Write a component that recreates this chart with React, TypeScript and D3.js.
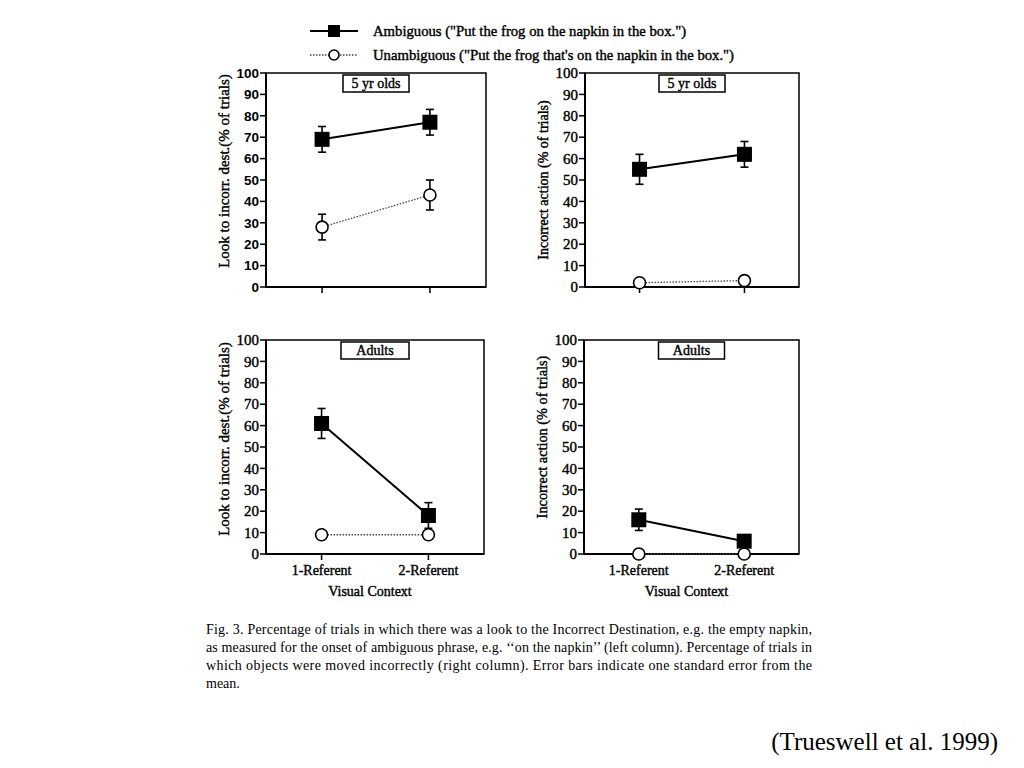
import React from 'react';
import * as d3 from 'd3';

// x categories and y ticks
const contexts = ['1-Referent', '2-Referent'];
const yTicks = [0, 10, 20, 30, 40, 50, 60, 70, 80, 90, 100];

// 5 yr olds, looks to incorrect destination
const kidsLookAmb = [69, 77];
const kidsLookAmbErr = [6, 6];
const kidsLookUnamb = [28, 43];
const kidsLookUnambErr = [6, 7];

// 5 yr olds, incorrect action
const kidsActAmb = [55, 62];
const kidsActAmbErr = [7, 6];
const kidsActUnamb = [2, 3];
const kidsActUnambErr = [0, 0];

// adults, looks
const adultLookAmb = [61, 18];
const adultLookAmbErr = [7, 6];
const adultLookUnamb = [9, 9];
const adultLookUnambErr = [0, 0];

// adults, action
const adultActAmb = [16, 6];
const adultActAmbErr = [5, 0];
const adultActUnamb = [0, 0];
const adultActUnambErr = [0, 0];

const captionLines = [
  'Fig. 3.  Percentage of trials in which there was a look to the Incorrect Destination, e.g. the empty napkin,',
  'as measured for the onset of ambiguous phrase, e.g. \u2018\u2018on the napkin\u2019\u2019 (left column). Percentage of trials in',
  'which objects were moved incorrectly (right column). Error bars indicate one standard error from the',
  'mean.',
];

const SERIF = '"Liberation Serif", "Times New Roman", serif';
const SANS = '"Liberation Sans", Arial, sans-serif';

// scanned figure text looks heavier than plain regular
const heavy = { stroke: '#000', strokeWidth: 0.4 };

interface PanelProps {
  x0: number; x1: number; y0: number; y1: number;
  title: string; titleW: number;
  yLabel: string; yLabelSize: number; yLabelShift: number;
  amb: number[]; ambErr: number[];
  unamb: number[]; unambErr: number[];
  showX: boolean;
  tickFont: string;
}

const Panel: React.FC<PanelProps> = (p) => {
  const x = d3.scalePoint<string>().domain(contexts).range([p.x0, p.x1]).padding(0.52);
  const y = d3.scaleLinear().domain([0, 100]).range([p.y1, p.y0]);
  const line = d3.line<number>().x((_, i) => x(contexts[i])!).y((d) => y(d));
  const cx = (p.x0 + p.x1) / 2;

  const errBars = (vals: number[], errs: number[]) =>
    vals.map((v, i) => {
      if (!errs[i]) return null;
      const px = x(contexts[i])!;
      return (
        <g key={i} stroke="#000" strokeWidth={1.6}>
          <line x1={px} x2={px} y1={y(v - errs[i])} y2={y(v + errs[i])} />
          <line x1={px - 4} x2={px + 4} y1={y(v + errs[i])} y2={y(v + errs[i])} />
          <line x1={px - 4} x2={px + 4} y1={y(v - errs[i])} y2={y(v - errs[i])} />
        </g>
      );
    });

  return (
    <g>
      {/* frame */}
      <rect x={p.x0} y={p.y0} width={p.x1 - p.x0} height={p.y1 - p.y0} fill="none" stroke="#000" strokeWidth={1.5} />
      <line x1={p.x0} x2={p.x0} y1={p.y0} y2={p.y1} stroke="#000" strokeWidth={2} />
      <line x1={p.x0} x2={p.x1} y1={p.y1} y2={p.y1} stroke="#000" strokeWidth={2} />
      {/* title box */}
      <rect x={cx - p.titleW / 2} y={p.y0 + 2} width={p.titleW} height={17} fill="#fff" stroke="#000" strokeWidth={1.5} />
      <text x={cx} y={p.y0 + 15} textAnchor="middle" fontFamily={SERIF} fontSize={14} {...heavy}>{p.title}</text>
      {/* y ticks */}
      {yTicks.map((t) => (
        <g key={t}>
          <line x1={p.x0 - 6} x2={p.x0} y1={y(t)} y2={y(t)} stroke="#000" strokeWidth={1.5} />
          {p.tickFont === SANS ? (
            <text x={p.x0 - 7} y={y(t)} dy="0.35em" textAnchor="end" fontFamily={SANS}
              fontSize={13.5} fontWeight="bold">{t}</text>
          ) : (
            <text x={p.x0 - 7} y={y(t)} dy="0.35em" textAnchor="end" fontFamily={SERIF}
              fontSize={15} {...heavy}>{t}</text>
          )}
        </g>
      ))}
      {/* x ticks */}
      {contexts.map((c) => (
        <g key={c}>
          <line x1={x(c)!} x2={x(c)!} y1={p.y1} y2={p.y1 + 6} stroke="#000" strokeWidth={1.5} />
          {p.showX && (
            <text x={x(c)!} y={p.y1 + 21} textAnchor="middle" fontFamily={SERIF} fontSize={14} {...heavy}>{c}</text>
          )}
        </g>
      ))}
      {p.showX && (
        <text x={cx - 5} y={p.y1 + 42} textAnchor="middle" fontFamily={SERIF} fontSize={14} {...heavy}>Visual Context</text>
      )}
      <text transform={`translate(${p.x0 - 37},${(p.y0 + p.y1) / 2 + p.yLabelShift}) rotate(-90)`} textAnchor="middle"
        fontFamily={SERIF} fontSize={p.yLabelSize} {...heavy}>{p.yLabel}</text>
      {/* series */}
      {errBars(p.unamb, p.unambErr)}
      {errBars(p.amb, p.ambErr)}
      <path d={line(p.unamb)!} fill="none" stroke="#444" strokeWidth={1.3} strokeDasharray="1.5 1.5" />
      <path d={line(p.amb)!} fill="none" stroke="#000" strokeWidth={2} />
      {p.unamb.map((v, i) => (
        <circle key={i} cx={x(contexts[i])!} cy={y(v)} r={6} fill="#fff" stroke="#000" strokeWidth={1.6} />
      ))}
      {p.amb.map((v, i) => (
        <rect key={i} x={x(contexts[i])! - 7.5} y={y(v) - 7.5} width={15} height={15} fill="#000" />
      ))}
    </g>
  );
};

export default function App() {
  return (
    <div style={{ position: 'absolute', left: 0, top: 0 }}>
      <svg width={1024} height={768} style={{ display: 'block', background: '#fff' }}>
        {/* legend */}
        <line x1={310} x2={358} y1={31} y2={31} stroke="#000" strokeWidth={2} />
        <rect x={328} y={25} width={12} height={12} fill="#000" />
        <text x={373} y={36} fontFamily={SERIF} fontSize={14.7} {...heavy}>Ambiguous ("Put the frog on the napkin in the box.")</text>
        <line x1={310} x2={358} y1={55} y2={55} stroke="#444" strokeWidth={1.3} strokeDasharray="1.5 1.5" />
        <circle cx={334} cy={55} r={5} fill="#fff" stroke="#000" strokeWidth={1.6} />
        <text x={373} y={60} fontFamily={SERIF} fontSize={14.7} {...heavy}>Unambiguous ("Put the frog that's on the napkin in the box.")</text>

        <Panel x0={266} x1={486} y0={73} y1={287} title="5 yr olds" titleW={66}
          yLabel="Look to incorr. dest.(% of trials)" yLabelSize={15} yLabelShift={-9}
          amb={kidsLookAmb} ambErr={kidsLookAmbErr} unamb={kidsLookUnamb} unambErr={kidsLookUnambErr}
          showX={false} tickFont={SANS} />
        <Panel x0={585} x1={799} y0={73} y1={287} title="5 yr olds" titleW={66}
          yLabel="Incorrect action (% of trials)" yLabelSize={14} yLabelShift={0}
          amb={kidsActAmb} ambErr={kidsActAmbErr} unamb={kidsActUnamb} unambErr={kidsActUnambErr}
          showX={false} tickFont={SERIF} />
        <Panel x0={266} x1={484} y0={340} y1={554} title="Adults" titleW={68}
          yLabel="Look to incorr. dest.(% of trials)" yLabelSize={15} yLabelShift={-8}
          amb={adultLookAmb} ambErr={adultLookAmbErr} unamb={adultLookUnamb} unambErr={adultLookUnambErr}
          showX={true} tickFont={SERIF} />
        <Panel x0={584} x1={799} y0={340} y1={554} title="Adults" titleW={66}
          yLabel="Incorrect action (% of trials)" yLabelSize={14.3} yLabelShift={-10}
          amb={adultActAmb} ambErr={adultActAmbErr} unamb={adultActUnamb} unambErr={adultActUnambErr}
          showX={true} tickFont={SERIF} />

        {/* caption */}
        {captionLines.map((l, i) => (
          <text key={i} x={206} y={634 + i * 18} fontFamily={SERIF} fontSize={14}
            textLength={i < 3 ? 606 : undefined} lengthAdjust={i < 3 ? 'spacing' : undefined}>{l}</text>
        ))}
        <text x={998} y={750} textAnchor="end" fontFamily={SERIF} fontSize={25}>(Trueswell et al. 1999)</text>
      </svg>
    </div>
  );
}
